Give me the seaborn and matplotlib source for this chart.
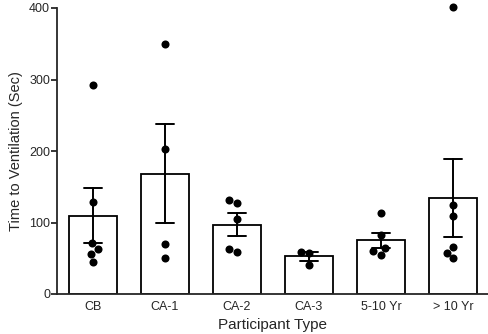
import matplotlib
matplotlib.use("Agg")
import matplotlib.pyplot as plt
import seaborn as sns
import pandas as pd

categories = ["CB", "CA-1", "CA-2", "CA-3", "5-10 Yr", "> 10 Yr"]
cb = [292, 128, 71, 63, 56, 45]
ca1 = [349, 203, 70, 50]
ca2 = [132, 127, 105, 63, 59]
ca3 = [59, 58, 41]
yr5_10 = [113, 83, 65, 60, 55]
yr10 = [401, 125, 109, 66, 58, 50]
yticks = [0, 100, 200, 300, 400]

groups = [cb, ca1, ca2, ca3, yr5_10, yr10]
rows = []
for cat, vals in zip(categories, groups):
    for v in vals:
        rows.append({"Participant Type": cat, "Time": v})
df = pd.DataFrame(rows)

sns.set_style("ticks")
plt.rcParams["font.family"] = ["Liberation Sans", "DejaVu Sans"]

fig = plt.figure(figsize=(4.89, 3.34), dpi=100)
ax = fig.add_axes([57 / 489, 1 - 294 / 334, 1 - 57 / 489, (294 - 8) / 334])

sns.barplot(data=df, x="Participant Type", y="Time", order=categories,
            errorbar="se", capsize=0.25, width=0.667, color="white",
            edgecolor="black", linewidth=1.3,
            err_kws={"color": "black", "linewidth": 1.4}, ax=ax)
n_before = len(ax.collections)
sns.swarmplot(data=df, x="Participant Type", y="Time", order=categories,
              color="black", size=5.8, ax=ax)
for c in ax.collections[n_before:]:
    c.set_clip_on(False)

ax.set_xlim(-0.5, 5.5)
ax.set_ylim(0, 400)
ax.set_yticks(yticks)
ax.set_ylabel("Time to Ventilation (Sec)", fontsize=10.5)
ax.set_xlabel("Participant Type", fontsize=11)
ax.tick_params(axis="y", length=4, width=1.3, labelsize=9, pad=1)
ax.tick_params(axis="x", length=0, labelsize=9, pad=5)
for s in ["left", "bottom"]:
    ax.spines[s].set_linewidth(1.3)
ax.spines["top"].set_visible(False)
ax.spines["right"].set_visible(False)

fig.savefig("out.png", dpi=100)
